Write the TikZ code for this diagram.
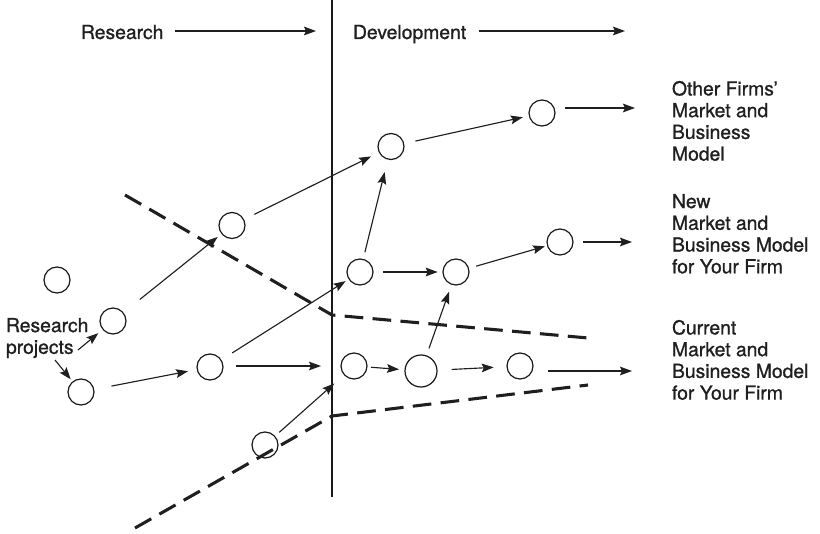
\documentclass[tikz,border=0pt]{standalone}
\usepackage{fontspec}
\setmainfont{TeX Gyre Heros}[BoldFont={TeX Gyre Heros},BoldFeatures={FakeBold=0.9}]
\usetikzlibrary{arrows.meta}
\begin{document}
\begin{tikzpicture}[x=0.75pt,y=-0.75pt,
  every node/.style={inner sep=0pt,outer sep=0pt},
  lbl/.style={font=\fontsize{14.5}{16.3}\selectfont\bfseries,align=left,text=black!88},
  proj/.style={circle,draw=black!90,line width=0.9pt,minimum size=19.5pt},
  bigproj/.style={proj,minimum size=24pt},
  arr/.style={draw=black!88,line width=0.85pt,-{Stealth[length=9pt,width=6.5pt,inset=1.5pt]}},
  dashline/.style={draw=black!88,line width=2.3pt,dash pattern=on 14pt off 7pt},
  divider/.style={draw=black!90,line width=0.95pt}]
\useasboundingbox (0,0) rectangle (820,534);

% divider
\coordinate (vtop) at (332,0);
\coordinate (vbot) at (332,497);
\draw[divider] (vtop) -- (vbot);

% headings
\node[lbl,anchor=base west] (research) at (81,39) {Research};
\node[lbl,anchor=base west] (develop) at (353,39) {Development};
\coordinate (resend) at (316,31);
\coordinate (devend) at (625,31);
\draw[arr,shorten <=9pt] (research.east |- resend) -- (resend);
\draw[arr,shorten <=9.5pt] (develop.east |- devend) -- (devend);

% right labels
\node[lbl,anchor=north west] (other) at (672,81) {Other Firms'\\Market and\\Business\\Model};
\node[lbl,anchor=north west] (new) at (672,194) {New\\Market and\\Business Model\\for Your Firm};
\node[lbl,anchor=north west] (current) at (672,320) {Current\\Market and\\Business Model\\for Your Firm};

% left label
\node[lbl,anchor=north west] (projlbl) at (6,318) {Research\\projects};

% projects
\node[proj] (A1) at (542,113) {};
\node[proj] (A2) at (391,146.5) {};
\node[proj] (B1) at (232,225.5) {};
\node[proj] (C0) at (57,280) {};
\node[proj] (L1) at (113,321) {};
\node[proj] (L2) at (81,392) {};
\node[proj] (M1) at (210,367) {};
\node[proj] (N1) at (360,272) {};
\node[proj] (N2) at (456,272) {};
\node[proj] (N3) at (560,242) {};
\node[proj] (P1) at (354,366) {};
\node[bigproj] (P2) at (421,371) {};
\node[proj] (P3) at (520,366) {};
\node[proj] (Q1) at (265,445) {};

% dashed boundaries
\coordinate (ua) at (125,195);
\coordinate (ub) at (332,315);
\coordinate (uc) at (588,338);
\coordinate (la) at (135,528);
\coordinate (lb) at (332,416);
\coordinate (lc) at (588,385);
\draw[dashline] (ua) -- (ub) -- (uc);
\draw[dashline] (la) -- (lb) -- (lc);

% outputs
\coordinate (A1out) at (635,108);
\coordinate (N3out) at (632,242);
\coordinate (P3out) at (632,371);

% connectors
\draw[arr,shorten <=9pt,shorten >=5pt] (A2) -- (A1);
\draw[arr,shorten <=5.5pt,shorten >=10pt] (N1) -- (A2);
\draw[arr,shorten <=9pt,shorten >=7pt] (B1) -- (A2);
\draw[arr,shorten <=16pt,shorten >=4pt] (L1) -- (B1);
\draw[arr,shorten <=7.5pt,shorten >=4pt] (N1) -- (N2);
\draw[arr,shorten <=6pt,shorten >=2pt] (N2) -- (N3);
\draw[arr,shorten <=7.5pt] (N3.east |- N3out) -- (N3out);
\draw[arr,shorten <=6pt,shorten >=6pt] (P2) -- (N2);
\draw[arr,shorten <=10pt,shorten >=3pt] (M1) -- (N1);
\draw[arr,shorten <=10pt,shorten >=15pt] (M1.east |- P1) -- (P1.west);
\draw[arr,shorten <=3pt,shorten >=4.5pt] (P1) -- (P2);
\draw[arr,shorten <=11pt,shorten >=10pt] (P2) -- (P3);
\draw[arr,shorten <=11pt] (P3.east |- P3out) -- (P3out);
\draw[arr,shorten <=4.5pt,shorten >=10pt] (Q1) -- (P1);
\draw[arr,shorten <=13.5pt,shorten >=7pt] (L2) -- (M1);
\draw[arr,shorten <=7.5pt] (A1.east |- A1out) -- (A1out);

% label pointers
\coordinate (lp1) at (78,350);
\coordinate (lp2) at (55,360);
\draw[arr,shorten >=4.5pt] (lp1) -- (L1);
\draw[arr,shorten >=2.5pt] (lp2) -- (L2);
\end{tikzpicture}
\end{document}
